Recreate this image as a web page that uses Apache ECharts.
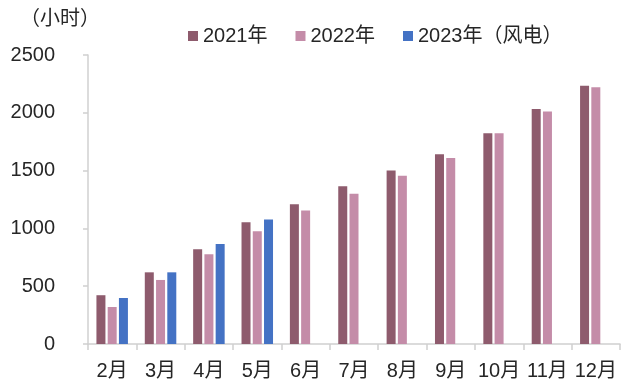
<!DOCTYPE html>
<html>
<head>
<meta charset="utf-8">
<script src="https://cdn.jsdelivr.net/npm/echarts@6/dist/echarts.min.js"></script>
<style>
  html, body { margin: 0; padding: 0; background: #fff; }
  #main { width: 621px; height: 387px; }
</style>
</head>
<body>
<div id="main"></div>
<script>
  // 月份
  const months = ['2月', '3月', '4月', '5月', '6月', '7月', '8月', '9月', '10月', '11月', '12月'];
  const seriesNames = ['2021年', '2022年', '2023年（风电）'];
  // 累计利用小时数
  const hours2021 = [422, 620, 820, 1053, 1209, 1365, 1501, 1642, 1824, 2032, 2234];
  const hours2022 = [320, 554, 776, 975, 1154, 1299, 1455, 1610, 1824, 2011, 2222];
  const hours2023 = [398, 620, 866, 1077, null, null, null, null, null, null, null];
  const yTicks = [0, 500, 1000, 1500, 2000, 2500];

  const font = '"Liberation Sans", Arial, "Noto Sans CJK SC", sans-serif';
  const textColor = '#262626';
  const axisGray = '#D0D0D0';

  const chart = echarts.init(document.getElementById('main'));
  const option = {
    animation: false,
    color: ['#8E5B6D', '#C48CA8', '#4472C4'],
    textStyle: { fontFamily: font },
    graphic: [{
      type: 'text',
      left: 20,
      top: 9,
      style: { text: '（小时）', font: '20px ' + font, fill: textColor }
    }],
    legend: {
      data: seriesNames,
      left: 183,
      top: 21,
      itemWidth: 10,
      itemHeight: 10,
      itemGap: 28,
      icon: 'rect',
      textStyle: { fontSize: 20, color: textColor, fontFamily: font }
    },
    grid: { left: 88, right: 1, top: 55, bottom: 43 },
    xAxis: {
      type: 'category',
      data: months,
      axisLine: { lineStyle: { color: axisGray, width: 1.5 } },
      axisTick: { show: true, length: 6, lineStyle: { color: axisGray, width: 1.5 } },
      axisLabel: { fontSize: 20, color: textColor, margin: 17, interval: 0, fontFamily: font }
    },
    yAxis: {
      type: 'value',
      min: yTicks[0],
      max: yTicks[yTicks.length - 1],
      interval: 500,
      splitLine: { show: false },
      axisLine: { show: true, lineStyle: { color: axisGray, width: 1.5 } },
      axisTick: { show: true, length: 5, lineStyle: { color: axisGray, width: 1.5 } },
      axisLabel: {
        fontSize: 20, color: textColor, margin: 33, fontFamily: font,
        formatter: v => String(v)
      }
    },
    series: [
      { name: seriesNames[0], type: 'bar', data: hours2021, barWidth: 9, barGap: '25%' },
      { name: seriesNames[1], type: 'bar', data: hours2022, barWidth: 9, barGap: '25%' },
      { name: seriesNames[2], type: 'bar', data: hours2023, barWidth: 9, barGap: '25%' }
    ]
  };
  chart.setOption(option);
</script>
</body>
</html>
